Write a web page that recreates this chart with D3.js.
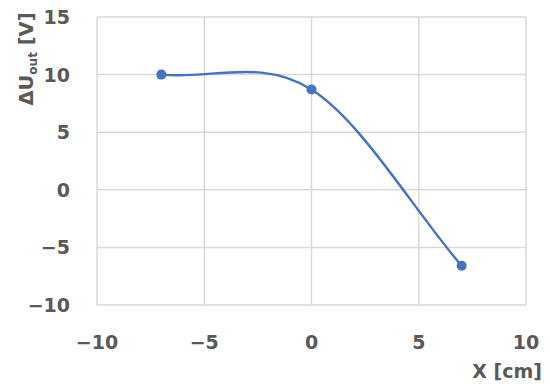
<!DOCTYPE html>
<html>
<head>
<meta charset="utf-8">
<script src="https://cdn.jsdelivr.net/npm/d3@7"></script>
<style>
  body { margin: 0; background: #fff; }
  text { font-family: "DejaVu Sans", sans-serif; font-weight: 700; fill: #595959; }
</style>
</head>
<body>
<div id="chart"></div>
<script>
const xValues = [-7, 0, 7];
const yValues = [10, 8.7, -6.6];
const xTicks = [-10, -5, 0, 5, 10];
const yTicks = [-10, -5, 0, 5, 10, 15];

// Excel-style smoothing: Catmull-Rom with extrapolated end points
function smoothCurve(context) {
    let pts = [];
    return {
        areaStart() {},
        areaEnd() {},
        lineStart() { pts = []; },
        point(x, y) { pts.push([+x, +y]); },
        lineEnd() {
            const n = pts.length;
            if (!n) return;
            context.moveTo(pts[0][0], pts[0][1]);
            if (n === 1) return;
            const p = i => {
                if (i < 0) return [2 * pts[0][0] - pts[1][0], 2 * pts[0][1] - pts[1][1]];
                if (i >= n) return [2 * pts[n - 1][0] - pts[n - 2][0], 2 * pts[n - 1][1] - pts[n - 2][1]];
                return pts[i];
            };
            for (let i = 0; i < n - 1; i++) {
                const p0 = p(i - 1), p1 = p(i), p2 = p(i + 1), p3 = p(i + 2);
                context.bezierCurveTo(
                    p1[0] + (p2[0] - p0[0]) / 6, p1[1] + (p2[1] - p0[1]) / 6,
                    p2[0] - (p3[0] - p1[0]) / 6, p2[1] - (p3[1] - p1[1]) / 6,
                    p2[0], p2[1]);
            }
        }
    };
}

function drawChart() {
    const width = 550;
    const height = 388;
    const margin = { top: 17, right: 24, bottom: 83, left: 97 };

    const svg = d3.select("#chart")
        .append("svg")
        .attr("width", width)
        .attr("height", height);

    const x = d3.scaleLinear()
        .domain([-10, 10])
        .range([margin.left, width - margin.right]);

    const y = d3.scaleLinear()
        .domain([-10, 15])
        .range([height - margin.bottom, margin.top]);

    const fmt = d => d < 0 ? "\u2212" + Math.abs(d) : String(d);

    // grid
    svg.append("g").selectAll("line")
        .data(xTicks)
        .enter().append("line")
        .attr("x1", d => x(d)).attr("x2", d => x(d))
        .attr("y1", y(-10)).attr("y2", y(15))
        .attr("stroke", "#d9d9d9").attr("stroke-width", 1.5);

    svg.append("g").selectAll("line")
        .data(yTicks)
        .enter().append("line")
        .attr("x1", x(-10)).attr("x2", x(10))
        .attr("y1", d => y(d)).attr("y2", d => y(d))
        .attr("stroke", "#d9d9d9").attr("stroke-width", 1.5);

    // tick labels
    svg.append("g").selectAll("text")
        .data(xTicks)
        .enter().append("text")
        .attr("x", d => x(d))
        .attr("y", 349)
        .attr("text-anchor", "middle")
        .attr("font-size", 19)
        .text(fmt);

    svg.append("g").selectAll("text")
        .data(yTicks)
        .enter().append("text")
        .attr("x", 70)
        .attr("y", d => y(d) + 7)
        .attr("text-anchor", "end")
        .attr("font-size", 19)
        .text(fmt);

    // axis titles
    svg.append("text")
        .attr("x", 542)
        .attr("y", 378)
        .attr("text-anchor", "end")
        .attr("font-size", 19)
        .text("X [cm]");

    const yt = svg.append("text")
        .attr("transform", "translate(33, 59) rotate(-90)")
        .attr("text-anchor", "middle")
        .attr("font-size", 19.5);
    yt.append("tspan").text("\u0394U");
    yt.append("tspan").attr("font-size", 12).attr("dy", 4).text("out");
    yt.append("tspan").attr("dy", -4).text(" [V]");

    // smoothed line
    const data = xValues.map((v, i) => ({ x: v, y: yValues[i] }));
    const line = d3.line()
        .x(d => x(d.x))
        .y(d => y(d.y))
        .curve(smoothCurve);

    svg.append("path")
        .datum(data)
        .attr("d", line)
        .attr("fill", "none")
        .attr("stroke", "#4472c4")
        .attr("stroke-width", 2.4);

    svg.selectAll("circle")
        .data(data)
        .enter().append("circle")
        .attr("cx", d => x(d.x))
        .attr("cy", d => y(d.y))
        .attr("r", 5)
        .attr("fill", "#4472c4");
}

drawChart();
</script>
</body>
</html>
